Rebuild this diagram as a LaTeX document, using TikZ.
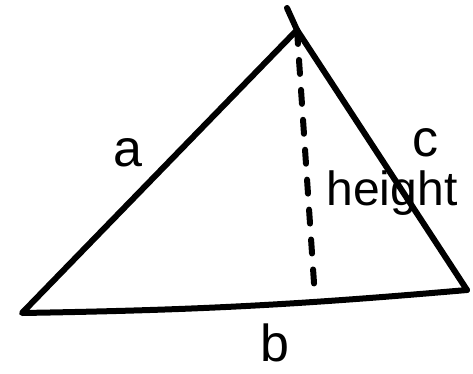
\documentclass[tikz,border=0pt]{standalone}
\usepackage{fontspec}
\setmainfont{Liberation Sans}
\usetikzlibrary{positioning}
\tikzset{
  side/.style={line width=6pt, line cap=round, line join=round, black},
  altitude/.style={line width=6pt, line cap=round, black, dash pattern=on 14pt off 16pt},
  lbl/.style={font=\fontsize{52}{52}\selectfont, inner sep=0pt}
}
\begin{document}
\begin{tikzpicture}[x=1pt, y=1pt]
  \useasboundingbox (0,0) rectangle (473,373);
  % Corners of the triangle
  \coordinate (bl) at (22,60);
  \coordinate (ap) at (297,343);
  \coordinate (br) at (467,83);
  \coordinate (tip) at (287,365);
  \coordinate (foot) at (315,75);

  % Sides
  \draw[side] (tip) -- (ap) -- (br);
  \draw[side] (br) to[bend left=2] (bl) -- (ap);

  % Height
  \draw[altitude] (ap) -- (foot);

  % Labels
  \node[lbl] (la) at (128,220) {a};
  \node[lbl] (lc) at (425,230) {c};
  \node[lbl, font=\fontsize{48}{48}\selectfont] (lh) at (392,180) {height};
  \node[lbl] (lb) at (275,30) {b};
\end{tikzpicture}
\end{document}
